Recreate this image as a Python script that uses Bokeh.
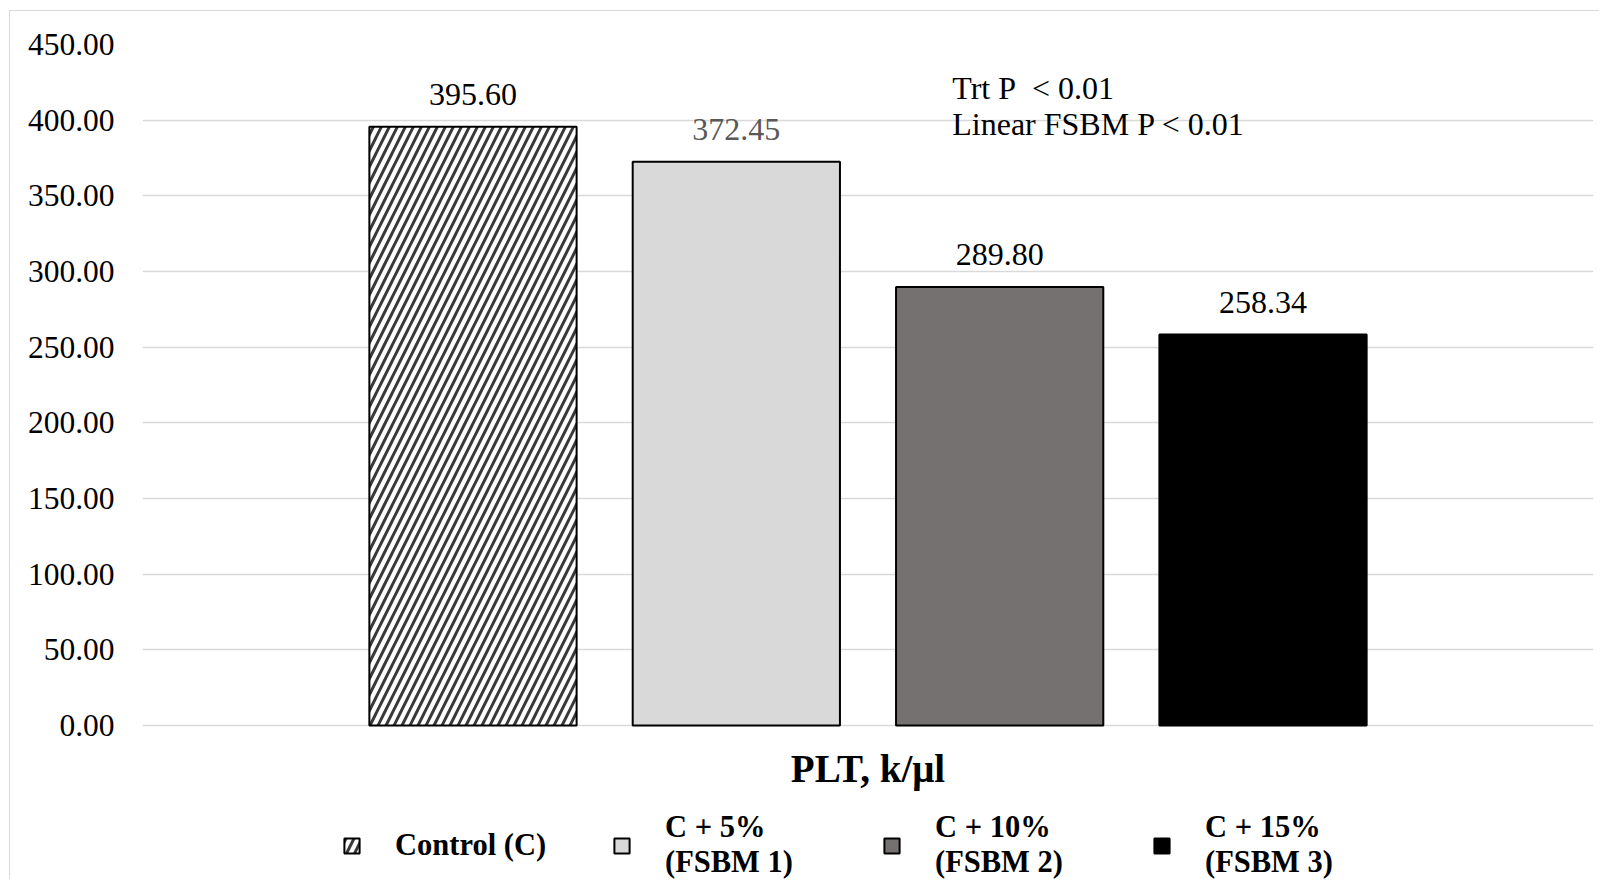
from bokeh.plotting import figure
from bokeh.models import (ColumnDataSource, Range1d, LabelSet, Label, Legend, LegendItem,
                          NumeralTickFormatter, FixedTicker)
from bokeh.embed import file_html
from bokeh.resources import INLINE

# ---- data ----
categories = ["Control (C)", "C + 5%\n(FSBM 1)", "C + 10%\n(FSBM 2)", "C + 15%\n(FSBM 3)"]
values = [395.60, 372.45, 289.80, 258.34]
fill_colors = ["#ffffff", "#d9d9d9", "#767171", "#000000"]
hatches = ["/", " ", " ", " "]
label_colors = ["#000000", "#595959", "#000000", "#000000"]
y_ticks = [0, 50, 100, 150, 200, 250, 300, 350, 400, 450]
axis_title = "PLT, k/\u03bcl"
notes = ["Trt P\u00a0 < 0.01", "Linear FSBM P < 0.01"]

SERIF = "Liberation Serif"

xs = list(range(len(categories)))
src = ColumnDataSource(dict(
    x=xs, top=values, fill=fill_colors, hatch=hatches,
    lab=["{:.2f}".format(v) for v in values], lcol=label_colors,
))

p = figure(width=1590, height=869, output_backend="svg", toolbar_location=None,
           x_range=Range1d(-1.255, 4.255), y_range=Range1d(-102.4, 450),
           min_border_left=132, min_border_right=7, min_border_top=33, min_border_bottom=0)
p.margin = (10, 0, 0, 9)
p.styles = {"border-left": "1px solid #d9d9d9", "border-top": "1px solid #d9d9d9"}
p.outline_line_color = None
p.background_fill_color = "white"
p.border_fill_color = "white"

renderers = []
for i in xs:
    r = p.vbar(x=[xs[i]], top=[values[i]], width=0.787, bottom=0,
               fill_color=fill_colors[i], line_color="black", line_width=2,
               hatch_pattern=hatches[i] if hatches[i] != " " else None,
               hatch_color="#3a3a3a", hatch_scale=16, hatch_weight=3)
    renderers.append(r)

labels = LabelSet(x="x", y="top", text="lab", source=src, text_align="center",
                  text_baseline="alphabetic", y_offset=22, text_color="lcol",
                  text_font=SERIF, text_font_size="32px")
p.add_layout(labels)

for t, yy in zip(notes, [421.0, 397.2]):
    p.add_layout(Label(x=1.82, y=yy, text=t, text_font=SERIF, text_font_size="32px",
                       text_baseline="alphabetic", text_color="black"))

# axis title drawn as a label below the baseline
p.add_layout(Label(x=1.5, y=-28.4, text=axis_title, text_font=SERIF, text_font_size="39px",
                   text_font_style="bold", text_align="center", text_baseline="alphabetic",
                   text_color="black"))

# axes
p.yaxis.ticker = FixedTicker(ticks=y_ticks)
p.yaxis.formatter = NumeralTickFormatter(format="0.00")
p.yaxis.axis_line_color = None
p.yaxis.major_tick_line_color = None
p.yaxis.minor_tick_line_color = None
p.yaxis.major_tick_out = 0
p.yaxis.major_label_standoff = 28
p.yaxis.major_label_text_font = SERIF
p.yaxis.major_label_text_font_size = "31.5px"
p.yaxis.major_label_text_color = "black"
p.xaxis.visible = False

p.xgrid.grid_line_color = None
p.ygrid.grid_line_color = "#d9d9d9"
p.ygrid.grid_line_width = 1.5

legend = Legend(items=[LegendItem(label=categories[i], renderers=[renderers[i]]) for i in xs],
                orientation="horizontal", location=(200, 0),
                glyph_width=19, glyph_height=19, label_standoff=34, label_width=200,
                spacing=17, padding=0, margin=0, border_line_color=None,
                background_fill_alpha=0, label_text_font=SERIF, label_text_font_style="bold",
                label_text_font_size="30.5px", label_text_line_height=1.05,
                label_text_color="black")
p.add_layout(legend)

open("out.html", "w").write(file_html(p, INLINE))
